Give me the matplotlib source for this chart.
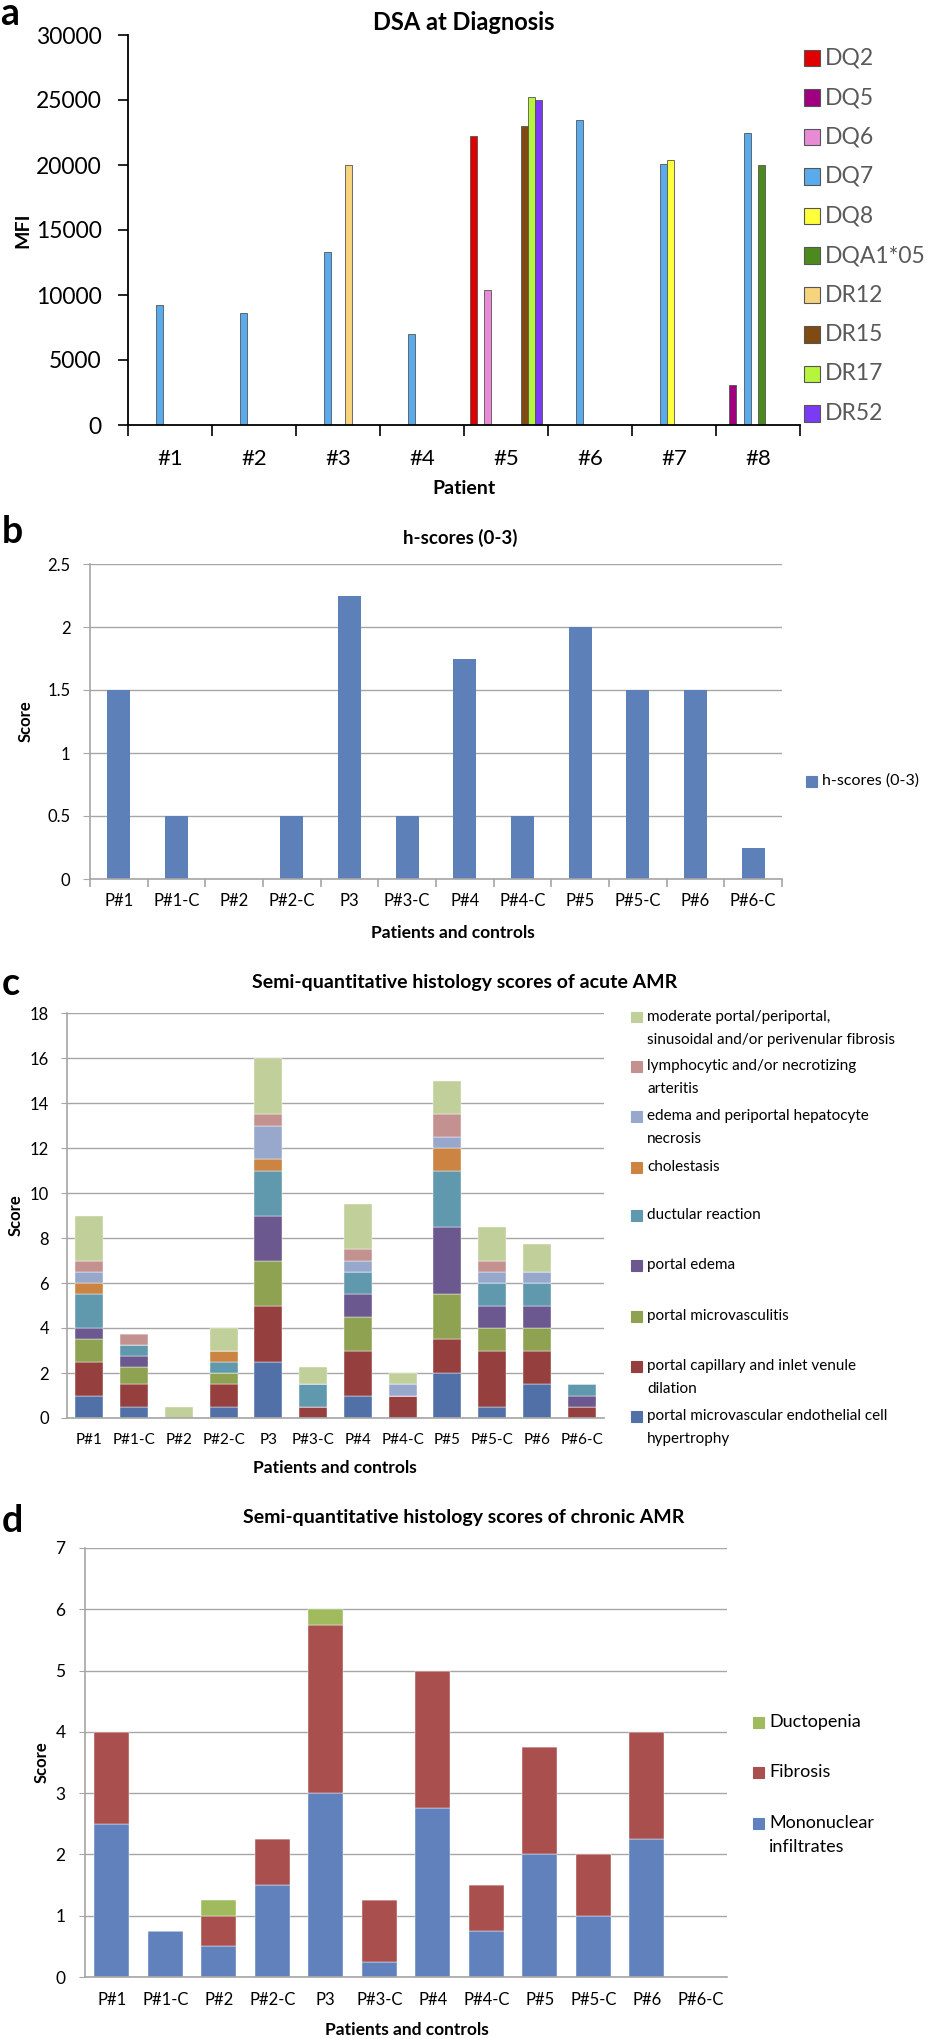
import numpy as np
import matplotlib
matplotlib.use('Agg')
import matplotlib.pyplot as plt
from matplotlib.patches import Rectangle

W, H = 931, 2039

# ---- panel a: DSA at diagnosis (MFI) ----
patients_a = ['#1', '#2', '#3', '#4', '#5', '#6', '#7', '#8']
dsa_names = ['DQ2', 'DQ5', 'DQ6', 'DQ7', 'DQ8', 'DQA1*05', 'DR12', 'DR15', 'DR17', 'DR52']
dq2 = [0, 0, 0, 0, 22200, 0, 0, 0]
dq5 = [0, 0, 0, 0, 0, 0, 0, 3100]
dq6 = [0, 0, 0, 0, 10400, 0, 0, 0]
dq7 = [9200, 8600, 13300, 7000, 0, 23500, 20100, 22500]
dq8 = [0, 0, 0, 0, 0, 0, 20400, 0]
dqa1_05 = [0, 0, 0, 0, 0, 0, 0, 20000]
dr12 = [0, 0, 20000, 0, 0, 0, 0, 0]
dr15 = [0, 0, 0, 0, 23000, 0, 0, 0]
dr17 = [0, 0, 0, 0, 25200, 0, 0, 0]
dr52 = [0, 0, 0, 0, 25000, 0, 0, 0]
dsa_colors = ['#e00000', '#a0007f', '#e98ad5', '#5aabeb', '#ffff3c',
              '#4d8a1e', '#f6d47e', '#7f4b12', '#b6f53c', '#7b3bf5']

# ---- panel b: h-scores ----
groups = ['P#1', 'P#1-C', 'P#2', 'P#2-C', 'P3', 'P#3-C',
          'P#4', 'P#4-C', 'P#5', 'P#5-C', 'P#6', 'P#6-C']
h_scores = [1.5, 0.5, 0, 0.5, 2.25, 0.5, 1.75, 0.5, 2.0, 1.5, 1.5, 0.25]

# ---- panel c: acute AMR, stack order bottom -> top ----
acute_names = ['portal microvascular endothelial cell\nhypertrophy',
               'portal capillary and inlet venule\ndilation',
               'portal microvasculitis',
               'portal edema',
               'ductular reaction',
               'cholestasis',
               'edema and periportal hepatocyte\nnecrosis',
               'lymphocytic and/or necrotizing\narteritis',
               'moderate portal/periportal,\nsinusoidal and/or perivenular fibrosis']
endothelial = [1, 0.5, 0, 0.5, 2.5, 0, 1, 0, 2, 0.5, 1.5, 0]
capillary = [1.5, 1, 0, 1, 2.5, 0.5, 2, 1, 1.5, 2.5, 1.5, 0.5]
microvasculitis = [1, 0.75, 0, 0.5, 2, 0, 1.5, 0, 2, 1, 1, 0]
portal_edema = [0.5, 0.5, 0, 0, 2, 0, 1, 0, 3, 1, 1, 0.5]
ductular = [1.5, 0.5, 0, 0.5, 2, 1, 1, 0, 2.5, 1, 1, 0.5]
cholestasis = [0.5, 0, 0, 0.5, 0.5, 0, 0, 0, 1, 0, 0, 0]
necrosis = [0.5, 0, 0, 0, 1.5, 0, 0.5, 0.5, 0.5, 0.5, 0.5, 0]
arteritis = [0.5, 0.5, 0, 0, 0.5, 0, 0.5, 0, 1, 0.5, 0, 0]
fibrosis_mod = [2, 0, 0.5, 1, 2.5, 0.75, 2, 0.5, 1.5, 1.5, 1.25, 0]
acute_colors = ['#5270a8', '#95403f', '#8fa252', '#6b588e', '#6098ae',
                '#cb8442', '#98a8cd', '#c39290', '#c1cf9b']

# ---- panel d: chronic AMR ----
chronic_names = ['Mononuclear\ninfiltrates', 'Fibrosis', 'Ductopenia']
mononuclear = [2.5, 0.75, 0.5, 1.5, 3, 0.25, 2.75, 0.75, 2, 1, 2.25, 0]
fibrosis = [1.5, 0, 0.5, 0.75, 2.75, 1, 2.25, 0.75, 1.75, 1, 1.75, 0]
ductopenia = [0, 0, 0.25, 0, 0.25, 0, 0, 0, 0, 0, 0, 0]
chronic_colors = ['#6181bc', '#a9504f', '#a0bb5e']

plt.rcParams['font.family'] = ['Lato', 'DejaVu Sans']
GRID = '#a6a6a6'


def box(l, t, r, b):
    return [l / W, 1 - b / H, (r - l) / W, (b - t) / H]


def ftext(x, y, s, **kw):
    fig.text(x / W, 1 - y / H, s, **kw)


def side_legend(x, ys, labels, colors, sq, size, step, edge=None, color='black'):
    for y, lab, c in zip(ys, labels, colors):
        fig.patches.append(Rectangle((x / W, 1 - (y + sq / 2) / H), sq / W, sq / H,
                                     transform=fig.transFigure, facecolor=c,
                                     edgecolor=edge or c, lw=0.8))
        for k, line in enumerate(lab.split('\n')):
            ftext(x + sq + 5, y + k * step, line, fontsize=size, va='center', color=color)


def excel_axes(ax, ymax, step, ylen, ypad, xpad, xsize, ysize):
    ax.set_ylim(0, ymax)
    ax.set_yticks(np.arange(0, ymax + step / 2, step))
    ax.yaxis.set_major_formatter(matplotlib.ticker.FormatStrFormatter('%g'))
    ax.grid(axis='y', color=GRID, lw=1)
    ax.set_axisbelow(True)
    for s in ('top', 'right'):
        ax.spines[s].set_visible(False)
    for s in ('left', 'bottom'):
        ax.spines[s].set_color(GRID)
        ax.spines[s].set_linewidth(1.2)
    ax.set_xlim(-0.5, len(groups) - 0.5)
    ax.set_xticks(range(len(groups)))
    ax.set_xticklabels(groups)
    ax.tick_params(axis='y', length=ylen, color=GRID, pad=ypad, labelsize=ysize)
    ax.tick_params(axis='x', length=0, pad=xpad, labelsize=xsize)


fig = plt.figure(figsize=(W / 100, H / 100), dpi=100)

# ================= a =================
ax = fig.add_axes(box(128, 35, 800, 425))
series_a = [dq2, dq5, dq6, dq7, dq8, dqa1_05, dr12, dr15, dr17, dr52]
slot = 1 / 11.5
x = np.arange(len(patients_a))
for i, (vals, c) in enumerate(zip(series_a, dsa_colors)):
    idx = [j for j, v in enumerate(vals) if v > 0]
    ax.bar(x[idx] + (i - 4.5) * slot, [vals[j] for j in idx], width=slot * 0.95,
           color=c, edgecolor='#555555', lw=0.6)
ax.set_ylim(0, 30000)
ax.set_xlim(-0.5, 7.5)
ax.set_yticks(range(0, 30001, 5000))
ax.set_xticks(x)
ax.set_xticklabels(patients_a)
ax.set_xticks(np.arange(-0.5, 8, 1), minor=True)
ax.tick_params(axis='x', which='major', length=0, pad=17, labelsize=16)
ax.tick_params(axis='x', which='minor', length=8, width=1.2, direction='out')
ax.tick_params(axis='y', length=7, width=1.2, pad=12, labelsize=16.5)
for s in ('top', 'right'):
    ax.spines[s].set_visible(False)
for s in ('left', 'bottom'):
    ax.spines[s].set_linewidth(1.3)
ftext(464, 23, 'DSA at Diagnosis', fontsize=17, fontweight='bold', ha='center', va='center')
ftext(464, 488, 'Patient', fontsize=14, fontweight='bold', ha='center', va='center')
ftext(23, 230, 'MFI', fontsize=14, fontweight='bold', ha='center', va='center', rotation=90)
ftext(0, 25, 'a', fontsize=27, fontweight='bold', va='baseline')
side_legend(804, [58 + 39.5 * i for i in range(10)], dsa_names, dsa_colors,
            sq=16, size=16.5, step=0, edge='#555555', color='#595959')

# ================= b =================
ax = fig.add_axes(box(90, 564, 782, 879))
xg = np.arange(len(groups))
ax.bar(xg, h_scores, width=0.4, color='#5e80b9')
excel_axes(ax, 2.5, 0.5, 5, 9, 10, 12, 12)
ax.set_xticks(np.arange(-0.5, len(groups)), minor=True)
ax.tick_params(axis='x', which='minor', length=6, color=GRID, width=1.2)
ftext(460, 538, 'h-scores (0-3)', fontsize=13.5, fontweight='bold', ha='center', va='center')
ftext(453, 933, 'Patients and controls', fontsize=12.5, fontweight='bold', ha='center', va='center')
ftext(26, 721, 'Score', fontsize=12, fontweight='bold', ha='center', va='center', rotation=90)
ftext(2, 543, 'b', fontsize=27, fontweight='bold', va='baseline')
side_legend(806, [781], ['h-scores (0-3)'], ['#5e80b9'], sq=11, size=11.5, step=0)

# ================= c =================
ax = fig.add_axes(box(67, 1013, 604, 1418))
series_c = [endothelial, capillary, microvasculitis, portal_edema, ductular,
            cholestasis, necrosis, arteritis, fibrosis_mod]
bottom = np.zeros(len(groups))
for vals, c in zip(series_c, acute_colors):
    ax.bar(xg, vals, bottom=bottom, width=0.63, color=c, edgecolor='white', lw=0.3)
    bottom += np.array(vals)
excel_axes(ax, 18, 2, 4, 9, 11, 11, 12)
ftext(465, 983, 'Semi-quantitative histology scores of acute AMR', fontsize=14,
      fontweight='bold', ha='center', va='center')
ftext(335, 1468, 'Patients and controls', fontsize=12.5, fontweight='bold', ha='center', va='center')
ftext(16, 1215, 'Score', fontsize=12, fontweight='bold', ha='center', va='center', rotation=90)
ftext(2, 995, 'c', fontsize=27, fontweight='bold', va='baseline')
side_legend(631, [1017, 1066, 1116, 1167, 1215, 1265, 1316, 1366, 1416],
            acute_names[::-1], acute_colors[::-1], sq=11, size=11, step=23)

# ================= d =================
ax = fig.add_axes(box(85, 1548, 727, 1977))
series_d = [mononuclear, fibrosis, ductopenia]
bottom = np.zeros(len(groups))
for vals, c in zip(series_d, chronic_colors):
    ax.bar(xg, vals, bottom=bottom, width=0.645, color=c, edgecolor='white', lw=0.3)
    bottom += np.array(vals)
excel_axes(ax, 7, 1, 4, 10, 11, 12, 12.5)
ftext(464, 1517, 'Semi-quantitative histology scores of chronic AMR', fontsize=14,
      fontweight='bold', ha='center', va='center')
ftext(407, 2030, 'Patients and controls', fontsize=12.5, fontweight='bold', ha='center', va='center')
ftext(42, 1762, 'Score', fontsize=12, fontweight='bold', ha='center', va='center', rotation=90)
ftext(2, 1532, 'd', fontsize=27, fontweight='bold', va='baseline')
side_legend(753, [1722, 1772, 1823], chronic_names[::-1], chronic_colors[::-1],
            sq=11, size=13, step=24)

fig.savefig('out.png', dpi=100)
